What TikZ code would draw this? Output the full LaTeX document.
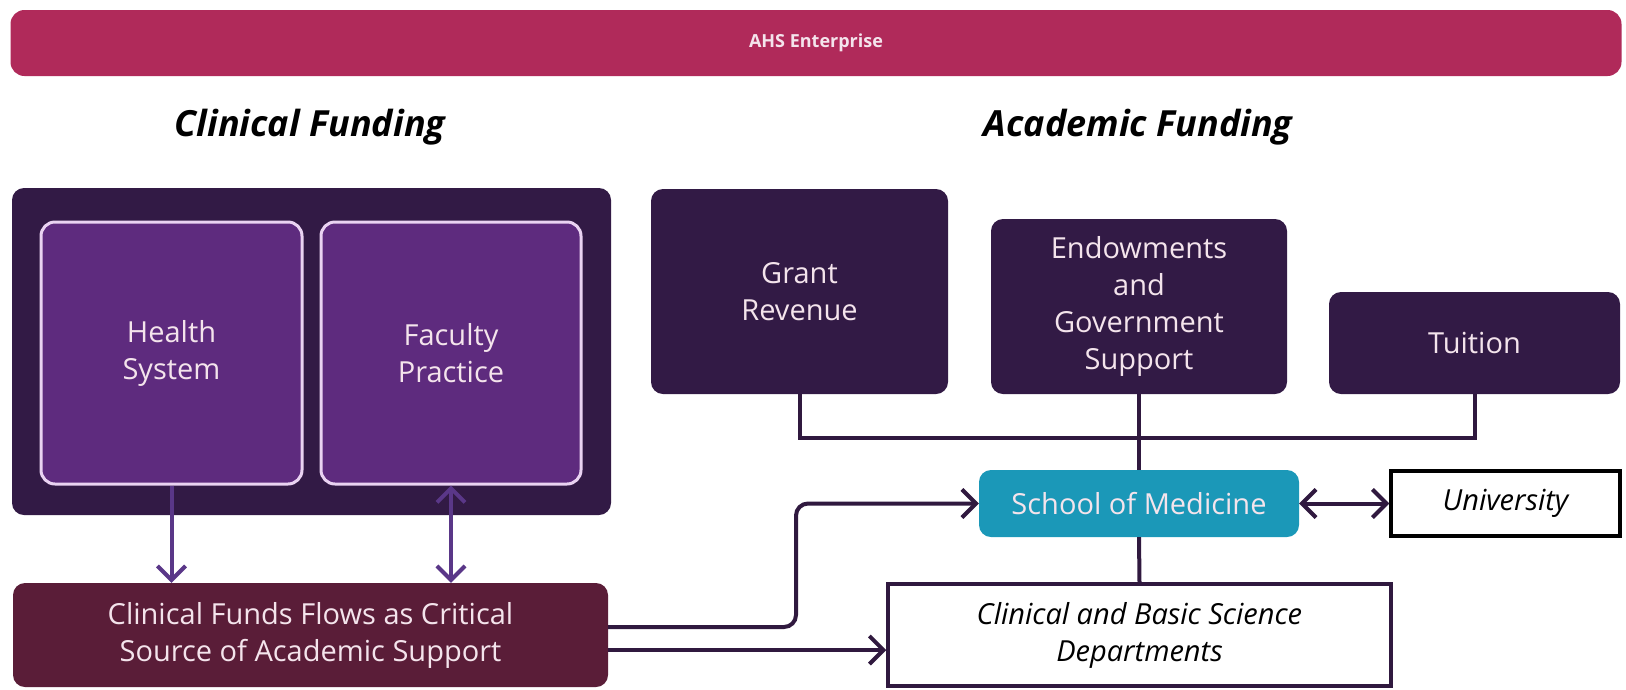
\documentclass[tikz,border=0pt]{standalone}
\usepackage{fontspec}
\setmainfont{Open Sans}
\usetikzlibrary{arrows.meta}
\definecolor{ahs}{HTML}{B02A5A}
\definecolor{darkbox}{HTML}{321A45}
\definecolor{inner}{HTML}{5E2B7E}
\definecolor{innerline}{HTML}{EAD3F2}
\definecolor{funds}{HTML}{5A1D38}
\definecolor{som}{HTML}{1B98B8}
\definecolor{lighttext}{HTML}{F4E4EC}
\definecolor{conn}{HTML}{30193F}
\definecolor{connlight}{HTML}{5A3788}
\tikzset{
  base/.style={inner sep=0pt, align=center, font=\fontsize{29}{37}\selectfont},
  darkbox/.style={base, fill=darkbox, rounded corners=12pt, text=lighttext},
  innerbox/.style={base, fill=inner, draw=innerline, line width=3pt, rounded corners=14pt, text=lighttext},
  whitebox/.style={base, fill=white, draw=conn, line width=3.5pt, font=\fontsize{29}{37}\selectfont\itshape},
  heading/.style={font=\fontsize{36}{42}\selectfont\bfseries\itshape, text=black},
  conline/.style={draw=conn, line width=4pt},
  arr/.style={conline, -{Straight Barb[length=14pt,width=28pt,line width=4pt]}},
  darr/.style={conline, {Straight Barb[length=14pt,width=28pt,line width=4pt]}-{Straight Barb[length=14pt,width=28pt,line width=4pt]}}
}
\begin{document}
\begin{tikzpicture}[x=1pt,y=-1pt]
\useasboundingbox[fill=white] (0,0) rectangle (1626,689);
% top bar
\node[base, fill=ahs, rounded corners=14pt, minimum width=1611pt, minimum height=66pt, text=lighttext, font=\fontsize{18}{22}\selectfont\bfseries] (ahs) at (816,43) {AHS Enterprise};
% headings
\node[heading] (clinhead) at (310,127) {Clinical Funding};
\node[heading] (achead) at (1138,127) {Academic Funding};
% clinical box
\node[darkbox, minimum width=599pt, minimum height=327pt] (clinbox) at (311.5,351.5) {};
\node[innerbox, minimum width=261pt, minimum height=262pt] (health) at (171.5,353) {Health\\System};
\node[innerbox, minimum width=260pt, minimum height=262pt] (faculty) at (451,353) {Faculty\\Practice};
\node[base, fill=funds, rounded corners=12pt, text=lighttext, minimum width=595pt, minimum height=104pt] (funds) at (310.5,635) {Clinical Funds Flows as Critical\\Source of Academic Support};
% academic boxes
\node[darkbox, minimum width=297pt, minimum height=205pt] (grant) at (799.5,291.5) {Grant\\Revenue};
\node[darkbox, minimum width=296pt, minimum height=175pt] (endow) at (1139,306.5) {Endowments\\and\\Government\\Support};
\node[darkbox, minimum width=291pt, minimum height=102pt] (tuition) at (1474.5,343) {Tuition};
\node[base, fill=som, rounded corners=12pt, text=lighttext, minimum width=320pt, minimum height=67pt] (som) at (1139,503.5) {School of Medicine};
\node[whitebox, draw=black, minimum width=229pt, minimum height=65pt] (univ) at (1505.5,503.5) {University};
\node[whitebox, minimum width=503pt, minimum height=102pt] (dept) at (1139.5,635) {Clinical and Basic Science\\Departments};
% connectors
\coordinate (bus) at (1139,438);
\draw[conline] (grant.south) |- (bus) -| (tuition.south);
\draw[conline] (endow.south) -- (som.north);
\draw[conline] (som.south) -- (dept.north);
\draw[arr, draw=connlight] (health.south) -- (health.south |- funds.north);
\draw[darr, draw=connlight] (faculty.south) -- (faculty.south |- funds.north);
\coordinate (bend) at (796,627);
\draw[arr, rounded corners=12pt] (funds.east |- bend) -- (bend) -- (bend |- som.west) -- (som.west);
\coordinate (low) at (0,650);
\draw[arr] (funds.east |- low) -- (dept.west |- low);
\draw[darr] (som.east) -- (univ.west);
\end{tikzpicture}
\end{document}
